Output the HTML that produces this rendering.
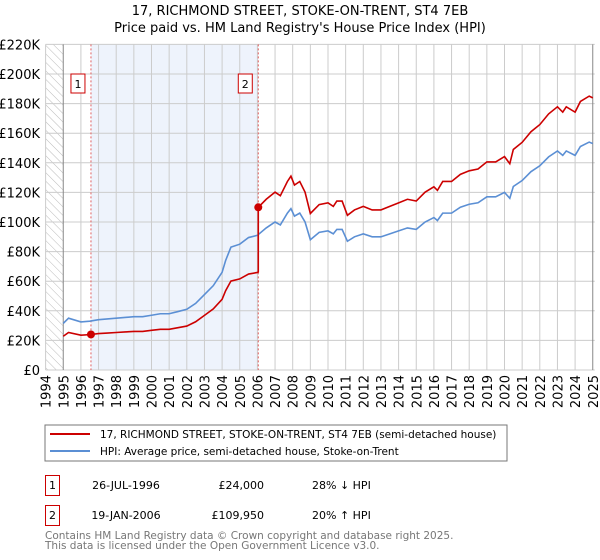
<!DOCTYPE html>
<html><head><meta charset="utf-8"><style>
body{margin:0;background:#fff;width:600px;height:560px;overflow:hidden;font-family:"Liberation Sans","DejaVu Sans",sans-serif}
svg{display:block}
</style></head><body>
<svg id="c" width="600" height="560" font-family="DejaVu Sans, Liberation Sans, sans-serif">
<defs><pattern id="hatch" width="6" height="6" patternUnits="userSpaceOnUse" patternTransform="rotate(-45)"><line x1="0" y1="0" x2="0" y2="6" stroke="#bbb" stroke-width="1"/></pattern></defs>
<text x="300" y="15" text-anchor="middle" font-size="13" fill="#000">17, RICHMOND STREET, STOKE-ON-TRENT, ST4 7EB</text>
<text x="300" y="32" text-anchor="middle" font-size="13" fill="#000">Price paid vs. HM Land Registry's House Price Index (HPI)</text>
<g id="plot"></g>
<g>
<rect x="45" y="425" width="462" height="36" fill="#fff" stroke="#777"/>
<line x1="50" y1="434" x2="90" y2="434" stroke="#cc0000" stroke-width="2"/>
<text x="100" y="438" font-size="10.5">17, RICHMOND STREET, STOKE-ON-TRENT, ST4 7EB (semi-detached house)</text>
<line x1="50" y1="451" x2="90" y2="451" stroke="#5b8fd4" stroke-width="2"/>
<text x="100" y="455" font-size="10.5">HPI: Average price, semi-detached house, Stoke-on-Trent</text>
</g>
<g font-size="11">
<rect x="45.5" y="475.5" width="14" height="20" fill="#fff" stroke="#cc0000"/>
<text x="52.5" y="489" text-anchor="middle">1</text>
<text x="126" y="489" text-anchor="middle">26-JUL-1996</text>
<text x="264" y="489" text-anchor="end">£24,000</text>
<text x="312" y="489">28% ↓ HPI</text>
<rect x="45.5" y="505.5" width="14" height="20" fill="#fff" stroke="#cc0000"/>
<text x="52.5" y="519" text-anchor="middle">2</text>
<text x="126" y="519" text-anchor="middle">19-JAN-2006</text>
<text x="264" y="519" text-anchor="end">£109,950</text>
<text x="312" y="519">20% ↑ HPI</text>
</g>
<text x="45" y="539" font-size="10.5" fill="#777">Contains HM Land Registry data © Crown copyright and database right 2025.</text>
<text x="45" y="549" font-size="10.5" fill="#777">This data is licensed under the Open Government Licence v3.0.</text>
</svg>
<script>
const hpiYears=[1995,1995.3,1996,1996.5,1997,1997.5,1998,1998.5,1999,1999.5,2000,2000.5,2001,2001.5,2002,2002.5,2003,2003.5,2004,2004.2,2004.5,2005,2005.5,2006,2006.5,2007,2007.3,2007.7,2007.9,2008.1,2008.4,2008.7,2009,2009.5,2010,2010.3,2010.5,2010.8,2011.1,2011.5,2012,2012.5,2013,2013.5,2014,2014.5,2015,2015.5,2016,2016.2,2016.5,2017,2017.5,2018,2018.5,2019,2019.5,2020,2020.3,2020.5,2021,2021.5,2022,2022.5,2023,2023.3,2023.5,2024,2024.3,2024.8,2025];
const hpiValues=[31.5,35,32.5,33,34,34.5,35,35.5,36,36,37,38,38,39.5,41,45,51,57,66,74,83,85,89.5,91,96,100,98,106,109,104,106,100,88,93,94,92,95,95,87,90,92,90,90,92,94,96,95,100,103,101,106,106,110,112,113,117,117,120,116,124,128,134,138,144,148,145,148,145,151,154,153];
const saleYears=[1996.57,2006.05];
const salePrices=[24,109.95];
const yTicks=[0,20,40,60,80,100,120,140,160,180,200,220];
const yTickLabels=["£0","£20K","£40K","£60K","£80K","£100K","£120K","£140K","£160K","£180K","£200K","£220K"];
const xTickYears=[1994,1995,1996,1997,1998,1999,2000,2001,2002,2003,2004,2005,2006,2007,2008,2009,2010,2011,2012,2013,2014,2015,2016,2017,2018,2019,2020,2021,2022,2023,2024,2025];

(function(){
const NS="http://www.w3.org/2000/svg";
const X=y=>45.6+(y-1994)*17.65;
const Y=v=>370-v/20*29.6;
const g=document.getElementById('plot');
function el(t,a,p){const e=document.createElementNS(NS,t);for(const k in a)e.setAttribute(k,a[k]);(p||g).appendChild(e);return e;}
function hpiAt(t){for(let i=1;i<hpiYears.length;i++){if(t<=hpiYears[i]){const f=(t-hpiYears[i-1])/(hpiYears[i]-hpiYears[i-1]);return hpiValues[i-1]+f*(hpiValues[i]-hpiValues[i-1]);}}return hpiValues[hpiValues.length-1];}
const pL=X(1994),pR=X(2025)+2,pT=Y(220),pB=Y(0);
let r=el('rect',{x:pL,y:pT,width:X(1995)-pL,height:pB-pT,fill:'url(#hatch)'});


r=el('rect',{x:X(saleYears[0]),y:pT,width:X(saleYears[1])-X(saleYears[0]),height:pB-pT,fill:'#eef3fc'});


yTicks.forEach((v,i)=>{
 const l=el('line',{x1:pL,x2:pR,y1:Y(v),y2:Y(v),stroke:'#ccc'});
 
 
 const t=el('text',{x:40,y:Y(v)+5,'text-anchor':'end','font-size':13,fill:'#000'});
 t.textContent=yTickLabels[i];
 
 
});
xTickYears.forEach(yr=>{
 const l=el('line',{x1:X(yr),x2:X(yr),y1:pT,y2:pB,stroke:(yr===1995||yr===2025)?'#888':'#ccc'});
 
 
 const t=el('text',{x:0,y:0,'text-anchor':'end','font-size':13,fill:'#000',transform:`translate(${X(yr)+5},${pB+5}) rotate(-90)`});
 t.textContent=yr;
 
 
});
saleYears.forEach((s,i)=>{
 const l=el('line',{x1:X(s),x2:X(s),y1:pT,y2:pB,stroke:'#e06060','stroke-dasharray':'2,2'});
 
 
 const b=el('rect',{x:X(s)-20,y:Y(200),width:14,height:19,fill:'#fff',stroke:'#cc0000'});
 
 
 const t=el('text',{x:X(s)-13,y:Y(200)+14,'text-anchor':'middle','font-size':11});
 t.textContent=i+1;
 
 
});
const hp=el('polyline',{points:hpiYears.map((y,i)=>X(y)+','+Y(hpiValues[i])).join(' '),fill:'none',stroke:'#5b8fd4','stroke-width':1.6});


const r1=salePrices[0]/hpiAt(saleYears[0]),r2=salePrices[1]/hpiAt(saleYears[1]);
const pts=[];
hpiYears.forEach((y,i)=>{
 if(y<saleYears[1])pts.push([y,hpiValues[i]*r1]);
 else{ if(pts.length&&pts[pts.length-1][0]<saleYears[1]){pts.push([saleYears[1],hpiAt(saleYears[1])*r1]);pts.push([saleYears[1],salePrices[1]]);} pts.push([y,hpiValues[i]*r2]);}
});
const pl=el('polyline',{points:pts.map(p=>X(p[0])+','+Y(p[1])).join(' '),fill:'none',stroke:'#cc0000','stroke-width':1.6});


saleYears.forEach((s,i)=>{
 const c=el('circle',{cx:X(s),cy:Y(salePrices[i]),r:4,fill:'#cc0000'});
 
 
});
})();
</script>
</body></html>
